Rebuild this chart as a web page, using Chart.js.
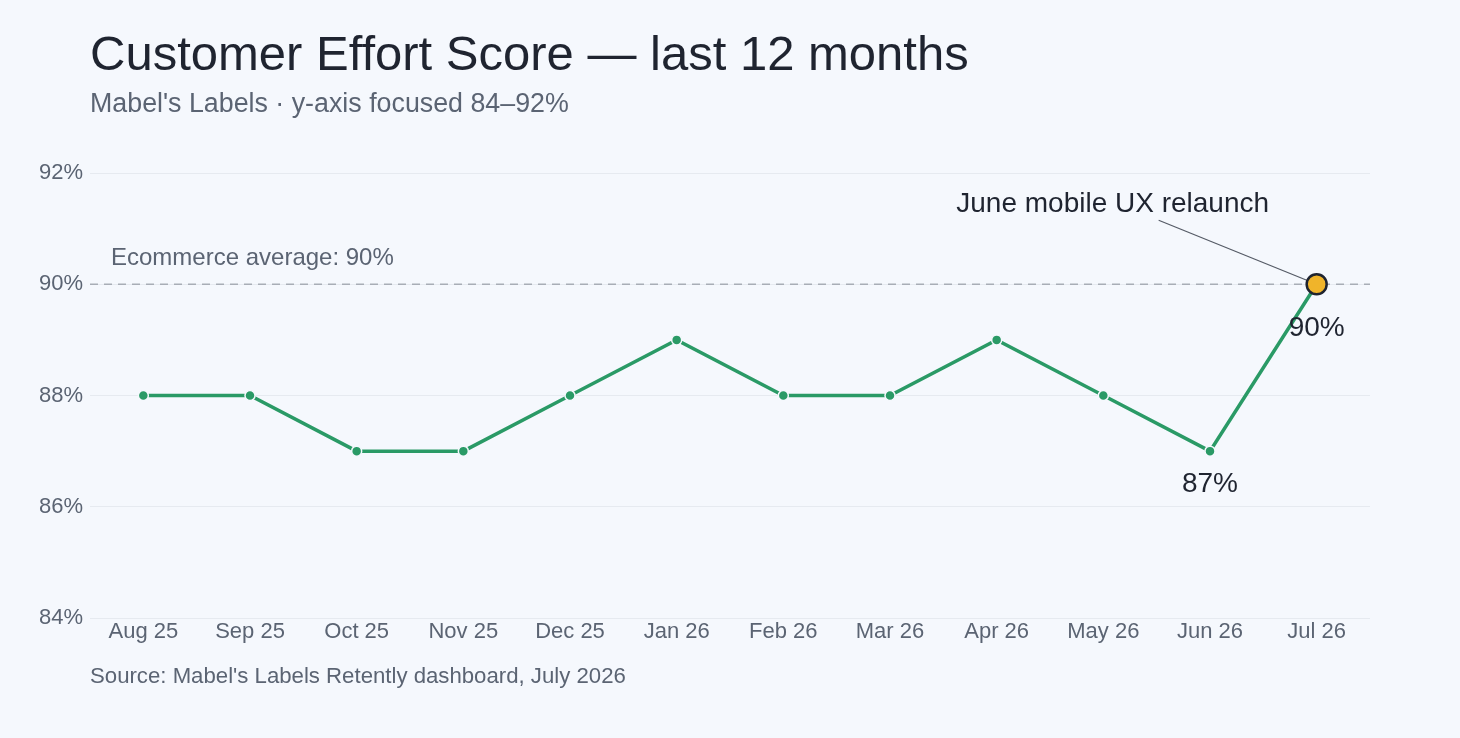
<!DOCTYPE html>
<html>
<head>
<meta charset="utf-8">
<script src="https://cdn.jsdelivr.net/npm/chart.js@4"></script>
<style>
  html, body { margin: 0; padding: 0; background: #f5f8fd; }
  #wrap { width: 1460px; height: 738px; position: relative; }
</style>
</head>
<body>
<div id="wrap"><canvas id="cesChart"></canvas></div>
<script>
const months = ['Aug 25', 'Sep 25', 'Oct 25', 'Nov 25', 'Dec 25', 'Jan 26', 'Feb 26', 'Mar 26', 'Apr 26', 'May 26', 'Jun 26', 'Jul 26'];
const cesValues = [88, 88, 87, 87, 88, 89, 88, 88, 89, 88, 87, 90];
const yTicks = [84, 86, 88, 90, 92];
const benchmark = 90;
const labelledPoints = [10, 11];
const highlightIndex = 11;

const FONT = '"Liberation Sans", Arial, Helvetica, sans-serif';
const GREEN = '#2a9a66';

const annotations = {
    id: 'annotations',
    beforeDatasetsDraw(chart) {
        const { ctx, chartArea, scales } = chart;
        const y = scales.y.getPixelForValue(benchmark);
        ctx.save();
        ctx.strokeStyle = '#a8adb6';
        ctx.lineWidth = 1.5;
        ctx.setLineDash([8, 6]);
        ctx.beginPath();
        ctx.moveTo(chartArea.left, y);
        ctx.lineTo(chartArea.right, y);
        ctx.stroke();
        ctx.setLineDash([]);

        ctx.fillStyle = '#5b6473';
        ctx.font = '24px ' + FONT;
        ctx.textAlign = 'left';
        ctx.textBaseline = 'alphabetic';
        ctx.fillText('Ecommerce average: ' + benchmark + '%', chartArea.left + 21, y - 19);

        // leader line to the highlighted point
        const px = scales.x.getPixelForValue(highlightIndex);
        const py = scales.y.getPixelForValue(cesValues[highlightIndex]);
        ctx.strokeStyle = '#555b66';
        ctx.lineWidth = 1.2;
        ctx.beginPath();
        ctx.moveTo(px - 158, py - 64);
        ctx.lineTo(px, py);
        ctx.stroke();

        ctx.fillStyle = '#1f2430';
        ctx.font = '28px ' + FONT;
        ctx.textAlign = 'center';
        ctx.fillText('June mobile UX relaunch', px - 204, py - 72);
        ctx.restore();
    },
    afterDatasetsDraw(chart) {
        const { ctx, scales } = chart;
        ctx.save();
        ctx.fillStyle = '#1f2430';
        ctx.font = '28px ' + FONT;
        ctx.textAlign = 'center';
        ctx.textBaseline = 'middle';
        labelledPoints.forEach(i => {
            const x = scales.x.getPixelForValue(i);
            const y = scales.y.getPixelForValue(cesValues[i]);
            const gap = i === highlightIndex ? 44 : 33;
            ctx.fillText(cesValues[i] + '%', x, y + gap);
        });
        ctx.restore();
    },
    afterDraw(chart) {
        const { ctx } = chart;
        ctx.save();
        ctx.textAlign = 'left';
        ctx.textBaseline = 'alphabetic';
        ctx.fillStyle = '#1f2430';
        ctx.font = '49px ' + FONT;
        ctx.fillText('Customer Effort Score \u2014 last 12 months', 90, 70);
        ctx.fillStyle = '#5b6473';
        ctx.font = '26.8px ' + FONT;
        ctx.fillText('Mabel\'s Labels \u00b7 y-axis focused 84\u201392%', 90, 112);
        ctx.font = '22.2px ' + FONT;
        ctx.fillText('Source: Mabel\'s Labels Retently dashboard, July 2026', 90, 683);
        ctx.restore();
    }
};

new Chart(document.getElementById('cesChart'), {
    type: 'line',
    data: {
        labels: months,
        datasets: [{
            label: 'Customer Effort Score',
            data: cesValues,
            borderColor: GREEN,
            borderWidth: 3.5,
            tension: 0,
            fill: false,
            pointRadius: cesValues.map((v, i) => i === highlightIndex ? 10 : 5),
            pointBackgroundColor: cesValues.map((v, i) => i === highlightIndex ? '#f0b42a' : GREEN),
            pointBorderColor: cesValues.map((v, i) => i === highlightIndex ? '#1f2430' : '#f5f8fd'),
            pointBorderWidth: cesValues.map((v, i) => i === highlightIndex ? 2.5 : 1.5)
        }]
    },
    options: {
        responsive: true,
        maintainAspectRatio: false,
        animation: false,
        layout: {
            padding: { top: 173, right: 90, bottom: 80, left: 0 }
        },
        plugins: {
            legend: { display: false },
            tooltip: { enabled: false }
        },
        scales: {
            x: {
                offset: true,
                clip: false,
                grid: { display: false, drawTicks: false },
                border: { display: false },
                ticks: {
                    color: '#5b6473',
                    font: { family: FONT, size: 22 },
                    padding: 1,
                    maxRotation: 0
                },
                afterFit(scale) { scale.height = 40; }
            },
            y: {
                min: 84,
                max: 92,
                afterBuildTicks(scale) {
                    scale.ticks = yTicks.map(v => ({ value: v }));
                },
                grid: { color: '#e6eaf0', drawTicks: false },
                border: { display: false },
                ticks: {
                    color: '#5b6473',
                    font: { family: FONT, size: 22 },
                    padding: 7,
                    callback: v => v + '%'
                },
                afterFit(scale) { scale.width = 90; }
            }
        }
    },
    plugins: [annotations]
});
</script>
</body>
</html>
